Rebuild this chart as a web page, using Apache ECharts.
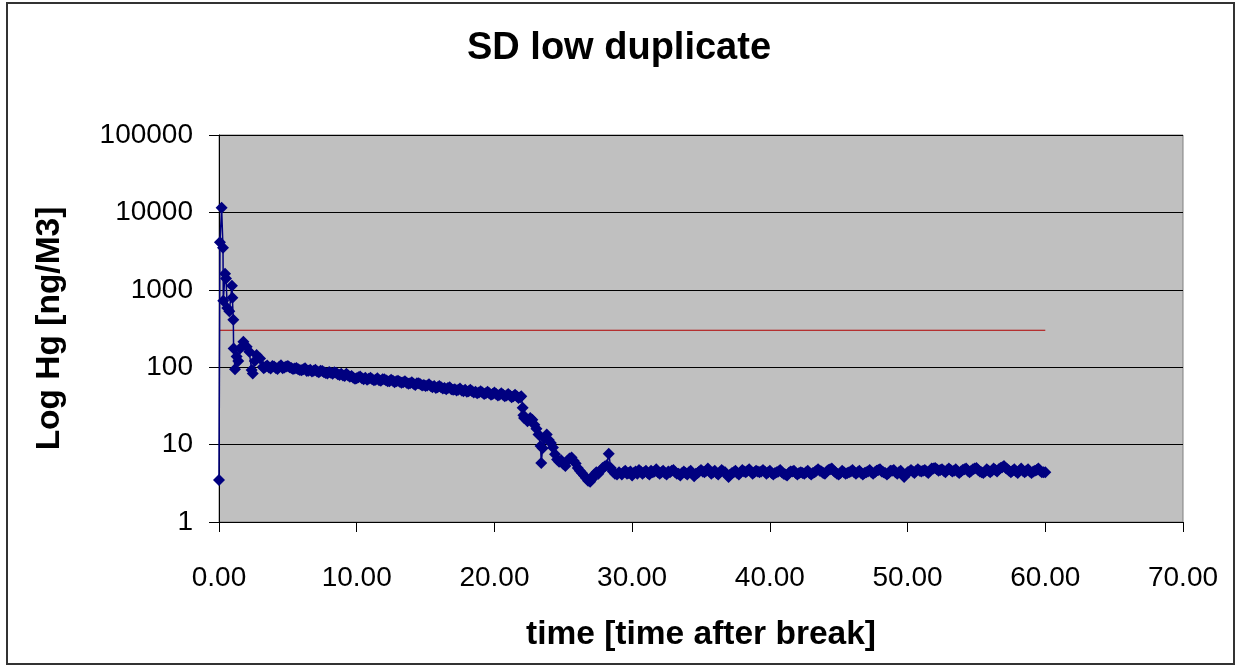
<!DOCTYPE html>
<html>
<head>
<meta charset="utf-8">
<script src="https://cdn.jsdelivr.net/npm/echarts@6/dist/echarts.min.js"></script>
<style>
html,body{margin:0;padding:0;background:#fff;}
#chart{width:1238px;height:667px;}
</style>
</head>
<body>
<div id="chart"></div>
<script>
// ---- Data ----
const chartTitle = "SD low duplicate";
const xAxisTitle = "time [time after break]";
const yAxisTitle = "Log Hg [ng/M3]";

// Hg concentration vs time, as [time, value] pairs
const earlyPoints = [
  [0,3.5],[0.07,4100],[0.19,11500],[0.29,3500],[0.31,720],[0.44,1610],[0.51,1400],
  [0.6,580],[0.75,530],[0.94,1130],[0.97,790],[1.04,410],[1.06,175],[1.16,94],
  [1.28,137],[1.4,120],[1.53,175],[1.77,214],[2.01,184],[2.2,158],[2.37,92],
  [2.45,83],[2.6,120],[2.73,144],[2.98,130],[3.2,101]
];
const plateauPoints = [
  [3.25,97],[3.5,105],[3.75,96],[4.0,102],[4.25,95],[4.5,106],[4.75,99],[5.0,104],
  [5.25,98],[5.5,96],[5.75,94],[6.0,91],[6.25,97],[6.5,90],[6.75,88],[7.0,93],
  [7.25,86],[7.5,89],[7.75,84],[8.0,87],[8.25,82],[8.5,85],[8.75,79],[9.0,78],
  [9.25,82],[9.5,75],[9.75,73],[10.0,72],[10.25,76],[10.5,70],[10.75,69],[11.0,73],
  [11.25,68],[11.5,72],[11.75,67],[12.0,70],[12.25,66],[12.5,69],[12.75,64],[13.0,67],
  [13.25,63],[13.5,66],[13.75,61],[14.0,64],[14.25,59],[14.5,62],[14.75,58],[15.0,57],
  [15.25,60],[15.5,55],[15.75,54],[16.0,57],[16.25,53],[16.5,52],[16.75,55],[17.0,51],
  [17.25,50],[17.5,53],[17.75,49],[18.0,48],[18.25,51],[18.5,47],[18.75,46],[19.0,49],
  [19.25,45],[19.5,48],[19.75,44],[20.0,47],[20.25,43],[20.5,46],[20.75,42],[21.0,45],
  [21.25,41],[21.5,44],[21.75,40],[21.95,42]
];
const plateauPointsB = [
  [3.375,101],[3.625,99],[3.875,104],[4.125,98],[4.375,101],[4.625,97],[4.875,102],[5.125,100],
  [5.375,95],[5.625,98],[5.875,92],[6.125,94],[6.375,89],[6.625,93],[6.875,90],[7.125,88],
  [7.375,90],[7.625,86],[7.875,83],[8.125,85],[8.375,86],[8.625,81],[8.875,82],[9.125,77],
  [9.375,78],[9.625,77],[9.875,71],[10.125,74],[10.375,72],[10.625,73],[10.875,71],[11.125,70],
  [11.375,69],[11.625,68],[11.875,70],[12.125,68],[12.375,66],[12.625,67],[12.875,66],[13.125,65],
  [13.375,64],[13.625,63],[13.875,62],[14.125,61],[14.375,62],[14.625,60],[14.875,59],[15.125,58],
  [15.375,57],[15.625,57],[15.875,55],[16.125,55],[16.375,54],[16.625,54],[16.875,52],[17.125,52],
  [17.375,51],[17.625,50],[17.875,51],[18.125,49],[18.375,49],[18.625,48],[18.875,47],[19.125,47],
  [19.375,46],[19.625,46],[19.875,45],[20.125,45],[20.375,44],[20.625,44],[20.875,43],[21.125,43],
  [21.375,42],[21.625,42],[21.875,41]
];
const dropPoints = [
  [22.05,30],[22.1,24],[22.15,22],[22.4,20],[22.6,22],[22.75,21],[22.9,18],[23.05,16],
  [23.2,13.5],[23.35,9.6],[23.4,5.8],[23.5,9.0],[23.65,12],[23.8,13.5],[23.95,11.5],
  [24.1,10.5],[24.25,9.2],[24.4,7.5],[24.55,6.4],[24.7,6.0],[24.85,6.3],[25.0,5.6],
  [25.15,5.3],[25.3,6.2],[25.45,6.6],[25.6,6.8],[25.75,6.2],[25.9,5.7],[26.05,5.0],
  [26.2,4.6],[26.35,4.3],[26.5,4.0],[26.65,3.7],[26.8,3.4],[26.95,3.3],[27.1,3.6],
  [27.25,4.1],[27.4,4.4],[27.55,4.2],[27.7,4.6],[27.85,5.0],[28.0,5.2],[28.15,5.4],
  [28.3,7.6],[28.45,5.0],[28.6,4.5],[28.75,4.2],[28.9,4.1],[29.05,4.4]
];
const tailPoints = [
  [29.25,4.1],[29.5,4.6],[29.75,4.3],[30.0,4.0],[30.25,4.5],[30.5,4.7],[30.75,4.2],[31.0,4.6],
  [31.25,4.1],[31.5,4.4],[31.75,4.8],[32.0,4.2],[32.25,4.6],[32.5,4.1],[32.75,4.4],[33.0,4.7],
  [33.25,4.2],[33.5,4.0],[33.75,4.5],[34.0,4.1],[34.25,4.6],[34.5,3.9],[34.75,4.3],[35.0,4.7],
  [35.25,4.4],[35.5,4.9],[35.75,4.2],[36.0,4.6],[36.25,4.1],[36.5,4.7],[36.75,4.4],[37.0,3.8],
  [37.25,4.3],[37.5,4.6],[37.75,4.1],[38.0,4.7],[38.25,4.4],[38.5,4.8],[38.75,4.2],[39.0,4.6],
  [39.25,4.4],[39.5,4.7],[39.75,4.2],[40.0,4.6],[40.25,4.1],[40.5,4.4],[40.75,4.7],[41.0,4.2],
  [41.25,4.0],[41.5,4.5],[41.75,4.6],[42.0,4.1],[42.25,4.4],[42.5,4.2],[42.75,4.6],[43.0,4.1],
  [43.25,4.4],[43.5,4.8],[43.75,4.5],[44.0,4.2],[44.25,4.7],[44.5,4.9],[44.75,4.4],[45.0,4.1],
  [45.25,4.6],[45.5,4.2],[45.75,4.4],[46.0,4.7],[46.25,4.2],[46.5,4.6],[46.75,4.1],[47.0,4.4],
  [47.25,4.7],[47.5,4.2],[47.75,4.6],[48.0,4.8],[48.25,4.4],[48.5,4.1],[48.75,4.6],[49.0,4.7],
  [49.25,4.2],[49.5,4.6],[49.75,3.8],[50.0,4.4],[50.25,4.7],[50.5,4.3],[50.75,4.8],[51.0,4.5],
  [51.25,4.7],[51.5,4.3],[51.75,4.9],[52.0,5.0],[52.25,4.6],[52.5,4.8],[52.75,4.4],[53.0,4.9],
  [53.25,4.5],[53.5,4.8],[53.75,4.3],[54.0,4.7],[54.25,4.9],[54.5,4.4],[54.75,4.8],[55.0,5.0],
  [55.25,4.5],[55.5,4.3],[55.75,4.8],[56.0,4.4],[56.25,4.9],[56.5,4.5],[56.75,5.0],[57.0,5.3],
  [57.25,4.8],[57.5,4.4],[57.75,4.8],[58.0,4.3],[58.25,4.9],[58.5,4.4],[58.75,4.8],[59.0,4.3],
  [59.25,4.6],[59.5,4.9],[59.75,4.4],[60.0,4.4]
];
const tailPointsB = [
  [29.375,4.4],[29.625,4.2],[29.875,4.5],[30.125,4.3],[30.375,4.2],[30.625,4.5],[30.875,4.4],[31.125,4.3],
  [31.375,4.6],[31.625,4.5],[31.875,4.4],[32.125,4.4],[32.375,4.3],[32.625,4.5],[32.875,4.6],[33.125,4.4],
  [33.375,4.2],[33.625,4.3],[33.875,4.3],[34.125,4.4],[34.375,4.2],[34.625,4.2],[34.875,4.5],[35.125,4.5],
  [35.375,4.6],[35.625,4.5],[35.875,4.4],[36.125,4.3],[36.375,4.4],[36.625,4.5],[36.875,4.1],[37.125,4.1],
  [37.375,4.4],[37.625,4.3],[37.875,4.4],[38.125,4.5],[38.375,4.6],[38.625,4.5],[38.875,4.4],[39.125,4.5],
  [39.375,4.5],[39.625,4.5],[39.875,4.4],[40.125,4.3],[40.375,4.3],[40.625,4.5],[40.875,4.4],[41.125,4.1],
  [41.375,4.3],[41.625,4.5],[41.875,4.3],[42.125,4.3],[42.375,4.3],[42.625,4.4],[42.875,4.3],[43.125,4.3],
  [43.375,4.6],[43.625,4.6],[43.875,4.3],[44.125,4.5],[44.375,4.8],[44.625,4.6],[44.875,4.2],[45.125,4.3],
  [45.375,4.4],[45.625,4.3],[45.875,4.5],[46.125,4.4],[46.375,4.4],[46.625,4.3],[46.875,4.3],[47.125,4.5],
  [47.375,4.4],[47.625,4.4],[47.875,4.7],[48.125,4.5],[48.375,4.3],[48.625,4.3],[48.875,4.6],[49.125,4.4],
  [49.375,4.4],[49.625,4.1],[49.875,4.1],[50.125,4.5],[50.375,4.5],[50.625,4.6],[50.875,4.6],[51.125,4.6],
  [51.375,4.5],[51.625,4.6],[51.875,4.9],[52.125,4.8],[52.375,4.7],[52.625,4.6],[52.875,4.7],[53.125,4.7],
  [53.375,4.6],[53.625,4.5],[53.875,4.5],[54.125,4.8],[54.375,4.6],[54.625,4.6],[54.875,4.9],[55.125,4.7],
  [55.375,4.4],[55.625,4.5],[55.875,4.6],[56.125,4.6],[56.375,4.7],[56.625,4.8],[56.875,5.1],[57.125,5.0],
  [57.375,4.6],[57.625,4.6],[57.875,4.5],[58.125,4.6],[58.375,4.6],[58.625,4.6],[58.875,4.5],[59.125,4.5],
  [59.375,4.7],[59.625,4.6],[59.875,4.4]
];
// Reference (limit) line
const limitLine = [[0,300],[60,300]];

const xTicks = [0,10,20,30,40,50,60,70];
const yTicks = [1,10,100,1000,10000,100000];

// merge the readings and put them in time order
const hgSeries = earlyPoints.concat(plateauPoints, plateauPointsB, dropPoints, tailPoints, tailPointsB)
  .slice().sort((a, b) => a[0] - b[0]);

// ---- Chart ----
const FONT = "'Liberation Sans', Arial, sans-serif";
const chart = echarts.init(document.getElementById('chart'), null, {renderer:'canvas'});
chart.setOption({
  animation: false,
  backgroundColor: '#ffffff',
  title: {
    text: chartTitle,
    left: 'center',
    top: 30,
    padding: 0,
    textStyle: {fontFamily: FONT, fontSize: 38, fontWeight: 'bold', color: '#000'}
  },
  graphic: [{
    type: 'rect',
    shape: {x: 7, y: 3, width: 1227, height: 661},
    style: {fill: 'none', stroke: '#333', lineWidth: 2},
    silent: true, z: -1
  }],
  grid: {
    left: 219, top: 135, right: 55, bottom: 145,
    show: true, backgroundColor: '#C0C0C0', borderColor: '#808080', borderWidth: 1
  },
  xAxis: {
    type: 'value',
    min: xTicks[0], max: xTicks[xTicks.length-1], interval: 10,
    name: xAxisTitle, nameLocation: 'middle', nameGap: 96,
    nameTextStyle: {fontFamily: FONT, fontSize: 33.5, fontWeight: 'bold', color: '#000'},
    axisLine: {show: true, onZero: false, lineStyle: {color: '#000', width: 1}},
    axisTick: {show: true, length: 10, lineStyle: {color: '#000'}},
    axisLabel: {margin: 42, fontFamily: FONT, fontSize: 28, color: '#000',
      formatter: v => Number(v).toFixed(2)},
    splitLine: {show: false}
  },
  yAxis: {
    type: 'log', logBase: 10,
    min: yTicks[0], max: yTicks[yTicks.length-1],
    name: yAxisTitle, nameLocation: 'middle', nameGap: 152,
    nameTextStyle: {fontFamily: FONT, fontSize: 33.5, fontWeight: 'bold', color: '#000'},
    axisLine: {show: true, lineStyle: {color: '#000', width: 1}},
    axisTick: {show: true, length: 10, lineStyle: {color: '#000'}},
    axisLabel: {margin: 26, fontFamily: FONT, fontSize: 28, color: '#000',
      formatter: v => String(Math.round(v))},
    splitLine: {show: true, lineStyle: {color: '#000', width: 1}}
  },
  series: [
    {
      type: 'line', data: limitLine, showSymbol: false, symbol: 'none',
      lineStyle: {color: '#B00000', width: 1.2}, z: 2
    },
    {
      type: 'line', data: hgSeries,
      symbol: 'diamond', symbolSize: 12, showSymbol: true,
      itemStyle: {color: '#000080'},
      lineStyle: {color: '#000080', width: 1.5}, z: 3
    }
  ]
});
</script>
</body>
</html>
